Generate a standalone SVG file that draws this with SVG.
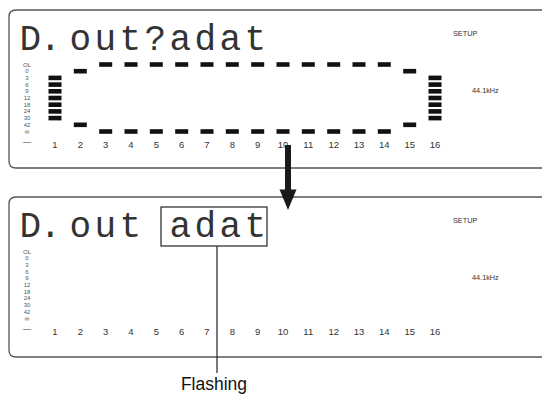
<svg xmlns="http://www.w3.org/2000/svg" xmlns:xlink="http://www.w3.org/1999/xlink" width="542" height="396" viewBox="0 0 542 396">
  <defs>
    <rect id="bar" width="13" height="4.6" fill="#111"/>
    <style>
      .frame{fill:none;stroke:#555;stroke-width:1.3}
      .lcd{font-family:"Liberation Mono","DejaVu Sans Mono",monospace;font-size:36px;fill:#333}
      .scale{font-family:"Liberation Sans",Arial,sans-serif;font-size:6px;fill:#555;text-anchor:middle}
      .num{font-family:"Liberation Sans",Arial,sans-serif;font-size:9.5px;fill:#333;text-anchor:middle}
      .info{font-family:"Liberation Sans",Arial,sans-serif;font-size:7.3px;fill:#333}
      .label{font-family:"Liberation Sans",Arial,sans-serif;font-size:17.5px;fill:#111;text-anchor:middle}
    </style>
    <g id="scale">
      <text class="scale" x="27" y="66.5">OL</text>
      <text class="scale" x="27" y="73.2">0</text>
      <text class="scale" x="27" y="79.9">3</text>
      <text class="scale" x="27" y="86.6">6</text>
      <text class="scale" x="27" y="93.3">9</text>
      <text class="scale" x="27" y="100">12</text>
      <text class="scale" x="27" y="106.7">18</text>
      <text class="scale" x="27" y="113.4">24</text>
      <text class="scale" x="27" y="120.1">30</text>
      <text class="scale" x="27" y="126.8">42</text>
      <text class="scale" x="27" y="133.5" style="font-size:7px">∞</text>
      <text class="num" x="27" y="144" style="font-size:8px">—</text>
      <text class="num" x="55" y="148">1</text>
      <text class="num" x="80.3" y="148">2</text>
      <text class="num" x="105.7" y="148">3</text>
      <text class="num" x="131" y="148">4</text>
      <text class="num" x="156.3" y="148">5</text>
      <text class="num" x="181.7" y="148">6</text>
      <text class="num" x="207" y="148">7</text>
      <text class="num" x="232.3" y="148">8</text>
      <text class="num" x="257.7" y="148">9</text>
      <text class="num" x="283" y="148">10</text>
      <text class="num" x="308.3" y="148">11</text>
      <text class="num" x="333.7" y="148">12</text>
      <text class="num" x="359" y="148">13</text>
      <text class="num" x="384.3" y="148">14</text>
      <text class="num" x="409.7" y="148">15</text>
      <text class="num" x="435" y="148">16</text>
      <text class="info" x="453" y="36">SETUP</text>
      <text class="info" x="472" y="93">44.1kHz</text>
    </g>
  </defs>

  <g id="display-before">
    <path class="frame" d="M545,10 H16 Q9,10 9,17 V161 Q9,168 16,168 H545"/>
    <text class="lcd" x="19.5 39.5 57 69.5 94.5 119.5 144.5 169.5 194.5 219.5 244.5" y="50">D. out?adat</text>
    <use xlink:href="#scale"/>
    <g id="meters">
      <use xlink:href="#bar" x="48.5" y="75.6"/>
      <use xlink:href="#bar" x="48.5" y="82.3"/>
      <use xlink:href="#bar" x="48.5" y="89"/>
      <use xlink:href="#bar" x="48.5" y="95.7"/>
      <use xlink:href="#bar" x="48.5" y="102.4"/>
      <use xlink:href="#bar" x="48.5" y="109.1"/>
      <use xlink:href="#bar" x="48.5" y="115.8"/>
      <use xlink:href="#bar" x="73.8" y="68.9"/>
      <use xlink:href="#bar" x="73.8" y="122.5"/>
      <use xlink:href="#bar" x="99.2" y="62.2"/><use xlink:href="#bar" x="99.2" y="129.2"/>
      <use xlink:href="#bar" x="124.5" y="62.2"/><use xlink:href="#bar" x="124.5" y="129.2"/>
      <use xlink:href="#bar" x="149.8" y="62.2"/><use xlink:href="#bar" x="149.8" y="129.2"/>
      <use xlink:href="#bar" x="175.2" y="62.2"/><use xlink:href="#bar" x="175.2" y="129.2"/>
      <use xlink:href="#bar" x="200.5" y="62.2"/><use xlink:href="#bar" x="200.5" y="129.2"/>
      <use xlink:href="#bar" x="225.8" y="62.2"/><use xlink:href="#bar" x="225.8" y="129.2"/>
      <use xlink:href="#bar" x="251.2" y="62.2"/><use xlink:href="#bar" x="251.2" y="129.2"/>
      <use xlink:href="#bar" x="276.5" y="62.2"/><use xlink:href="#bar" x="276.5" y="129.2"/>
      <use xlink:href="#bar" x="301.8" y="62.2"/><use xlink:href="#bar" x="301.8" y="129.2"/>
      <use xlink:href="#bar" x="327.2" y="62.2"/><use xlink:href="#bar" x="327.2" y="129.2"/>
      <use xlink:href="#bar" x="352.5" y="62.2"/><use xlink:href="#bar" x="352.5" y="129.2"/>
      <use xlink:href="#bar" x="377.8" y="62.2"/><use xlink:href="#bar" x="377.8" y="129.2"/>
      <use xlink:href="#bar" x="403.2" y="68.9"/>
      <use xlink:href="#bar" x="403.2" y="122.5"/>
      <use xlink:href="#bar" x="428.5" y="75.6"/>
      <use xlink:href="#bar" x="428.5" y="82.3"/>
      <use xlink:href="#bar" x="428.5" y="89"/>
      <use xlink:href="#bar" x="428.5" y="95.7"/>
      <use xlink:href="#bar" x="428.5" y="102.4"/>
      <use xlink:href="#bar" x="428.5" y="109.1"/>
      <use xlink:href="#bar" x="428.5" y="115.8"/>
    </g>
  </g>

  <g id="display-after">
    <path class="frame" d="M545,197 H16 Q9,197 9,204 V350 Q9,357 16,357 H545"/>
    <text class="lcd" x="19.5 39.5 57 69.5 94.5 119.5" y="237">D. out</text>
    <use xlink:href="#scale" y="187"/>
  </g>

  <g id="flashing-value">
    <rect x="161" y="207" width="106" height="39" fill="none" stroke="#222" stroke-width="1.2"/>
    <text class="lcd" x="169.5 194.5 219.5 244.5" y="237">adat</text>
  </g>

  <g id="connectors">
    <path d="M285,145 H291 V189.5 H296.5 L288,210 L279.5,189.5 H285 Z" fill="#1a1a1a"/>
    <line x1="217" y1="246" x2="217" y2="373" stroke="#222" stroke-width="1.2"/>
  </g>

  <g id="callout-label">
    <text class="label" x="214" y="390">Flashing</text>
  </g>
</svg>
